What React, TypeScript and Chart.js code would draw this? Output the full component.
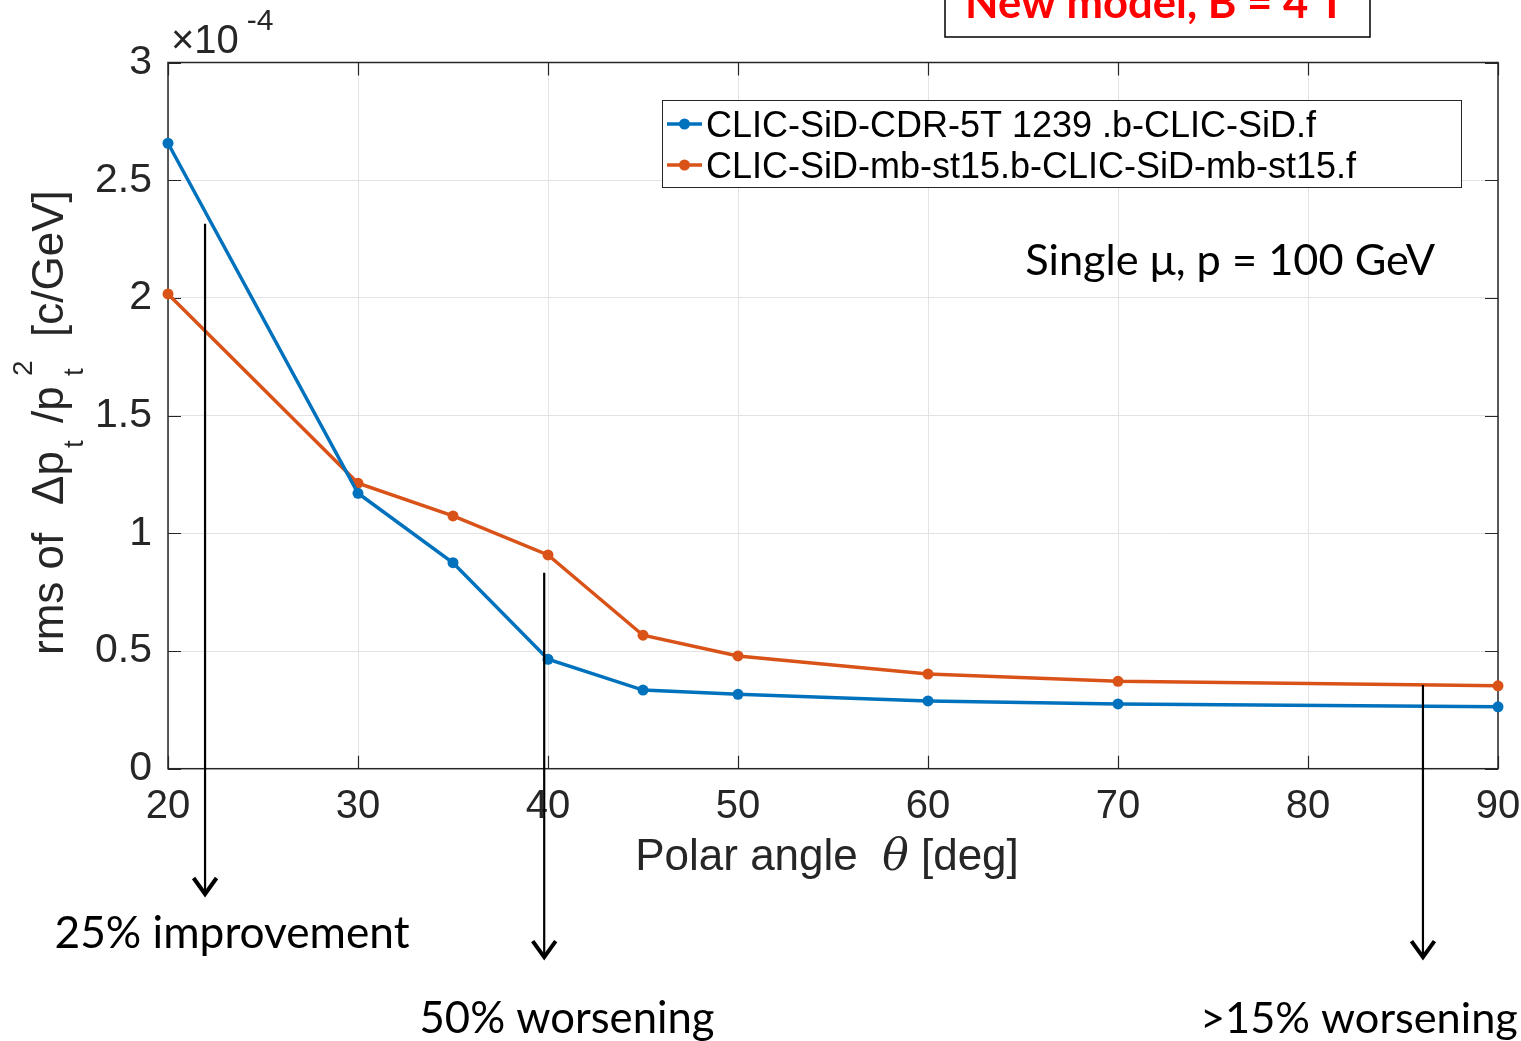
import React, { useEffect, useRef } from "react";
import { Chart, registerables } from "chart.js";

Chart.register(...registerables);

// ---- data ----
const angles = [20, 30, 35, 40, 45, 50, 60, 70, 90];
const cdr5t = [2.657, 1.17, 0.875, 0.465, 0.334, 0.316, 0.288, 0.275, 0.263];
const mbSt15 = [2.017, 1.213, 1.074, 0.908, 0.567, 0.479, 0.402, 0.371, 0.352];
const seriesLabels = [
  "CLIC-SiD-CDR-5T 1239 .b-CLIC-SiD.f",
  "CLIC-SiD-mb-st15.b-CLIC-SiD-mb-st15.f",
];
const seriesColors = ["#0072BD", "#D95319"];
const xTicks = [20, 30, 40, 50, 60, 70, 80, 90];
const yTicks = [0, 0.5, 1, 1.5, 2, 2.5, 3];
const titleBoxText = "New model, B = 4 T";
const infoText = "Single \u03bc, p = 100 GeV";
const infoPos = { x: 75.9, y: 2.098 };
const arrows = [
  { x: 21.95, from: 2.315, to: -0.545 },
  { x: 39.8, from: 0.832, to: -0.813 },
  { x: 86.05, from: 0.356, to: -0.813 },
];
const arrowLabels = [
  { text: "25% improvement", x: 23.37, y: -0.762, w: 355 },
  { text: "50% worsening", x: 41.0, y: -1.123, w: 295 },
  { text: ">15% worsening", x: 82.68, y: -1.123, w: 318 },
];

const AX = "#262626";
const SANS = "'Liberation Sans', Arial, sans-serif";
const CAL = "Lato, 'Open Sans', sans-serif";

function fitSize(ctx: CanvasRenderingContext2D, text: string, weight: string, family: string, target: number) {
  ctx.font = `${weight} 100px ${family}`;
  const w = ctx.measureText(text).width;
  return (100 * target) / w;
}

const overlayPlugin = {
  id: "overlay",
  beforeDatasetsDraw(chart: any) {
    const { ctx, chartArea: a, scales } = chart;
    const xs = scales.x, ys = scales.y;
    ctx.save();
    ctx.strokeStyle = AX;
    ctx.lineWidth = 1.2;
    const tl = 13;
    ctx.beginPath();
    xTicks.forEach((t) => {
      const px = Math.round(xs.getPixelForValue(t)) + 0.5;
      ctx.moveTo(px, a.bottom);
      ctx.lineTo(px, a.bottom - tl);
      ctx.moveTo(px, a.top);
      ctx.lineTo(px, a.top + tl);
    });
    yTicks.forEach((t) => {
      const py = Math.round(ys.getPixelForValue(t)) + 0.5;
      ctx.moveTo(a.left, py);
      ctx.lineTo(a.left + tl, py);
      ctx.moveTo(a.right, py);
      ctx.lineTo(a.right - tl, py);
    });
    ctx.stroke();
    ctx.lineWidth = 1.5;
    ctx.strokeRect(a.left, a.top, a.right - a.left, a.bottom - a.top);
    ctx.restore();
  },
  afterDraw(chart: any) {
    const { ctx, chartArea: a, scales } = chart;
    const xs = scales.x, ys = scales.y;
    ctx.save();

    // exponent label
    ctx.fillStyle = AX;
    ctx.textBaseline = "alphabetic";
    ctx.textAlign = "left";
    ctx.font = `40px ${SANS}`;
    ctx.fillText("\u00d710", a.left + 3, a.top - 10);
    const w10 = ctx.measureText("\u00d710").width;
    ctx.font = `30px ${SANS}`;
    ctx.fillText("-4", a.left + 3 + w10 + 8, a.top - 33);

    // x axis title
    const p1 = "Polar angle  ";
    const p2 = "\u03b8";
    const p3 = " [deg]";
    ctx.font = `44px ${SANS}`;
    const w1 = ctx.measureText(p1).width;
    const w3 = ctx.measureText(p3).width;
    ctx.font = `italic 44px 'DejaVu Serif', serif`;
    const w2 = ctx.measureText(p2).width;
    const total = w1 + w2 + w3;
    let sx = (a.left + a.right) / 2 - 6 - total / 2;
    const by = 870;
    ctx.font = `44px ${SANS}`;
    ctx.fillText(p1, sx, by);
    sx += w1;
    ctx.font = `italic 44px 'DejaVu Serif', serif`;
    ctx.fillText(p2, sx, by);
    sx += w2;
    ctx.font = `44px ${SANS}`;
    ctx.fillText(p3, sx, by);

    // y axis title (rotated, rich); offsets along the text direction
    ctx.save();
    ctx.translate(63, 655);
    ctx.rotate(-Math.PI / 2);
    const main = 44, small = 28;
    const segs: any[] = [
      { t: "rms of", s: main, at: 0, dy: 0 },
      { t: "\u0394p", s: main, at: 150, dy: 0 },
      { t: "t", s: small, at: 207, dy: 20 },
      { t: "/p", s: main, at: 232, dy: 0 },
      { t: "t", s: small, at: 279, dy: 20 },
      { t: "2", s: small, at: 279, dy: -31 },
      { t: "[c/GeV]", s: main, at: 318, dy: 0 },
    ];
    segs.forEach((sg) => {
      ctx.font = `${sg.s}px ${SANS}`;
      ctx.fillText(sg.t, sg.at, sg.dy);
    });
    ctx.restore();

    // legend
    const lx = 662, ly = 100, lw = 799, lh = 87;
    ctx.fillStyle = "#ffffff";
    ctx.fillRect(lx, ly, lw, lh);
    ctx.strokeStyle = AX;
    ctx.lineWidth = 1;
    ctx.strokeRect(lx + 0.5, ly + 0.5, lw, lh);
    chart.data.datasets.forEach((ds: any, i: number) => {
      const cy = 124 + i * 41;
      ctx.strokeStyle = ds.borderColor;
      ctx.lineWidth = 3.5;
      ctx.beginPath();
      ctx.moveTo(667, cy);
      ctx.lineTo(702, cy);
      ctx.stroke();
      ctx.fillStyle = ds.borderColor;
      ctx.beginPath();
      ctx.arc(684.5, cy, 5.5, 0, Math.PI * 2);
      ctx.fill();
      ctx.fillStyle = "#000000";
      ctx.font = `36px ${SANS}`;
      ctx.textBaseline = "middle";
      ctx.fillText(ds.label, 706, cy + 3);
    });
    ctx.textBaseline = "alphabetic";

    // info text
    ctx.fillStyle = "#000000";
    const fs = fitSize(ctx, infoText, "normal", CAL, 410);
    ctx.font = `${fs}px ${CAL}`;
    ctx.textAlign = "center";
    ctx.fillText(infoText, xs.getPixelForValue(infoPos.x), ys.getPixelForValue(infoPos.y));

    // arrows
    ctx.strokeStyle = "#000000";
    arrows.forEach((ar) => {
      const px = xs.getPixelForValue(ar.x);
      const y0 = ys.getPixelForValue(ar.from);
      const y1 = ys.getPixelForValue(ar.to);
      ctx.lineWidth = 2.2;
      ctx.beginPath();
      ctx.moveTo(px, y0);
      ctx.lineTo(px, y1 - 3);
      ctx.stroke();
      ctx.lineWidth = 4;
      ctx.lineJoin = "miter";
      ctx.beginPath();
      ctx.moveTo(px - 11.5, y1 - 19);
      ctx.lineTo(px, y1 - 3);
      ctx.lineTo(px + 11.5, y1 - 19);
      ctx.stroke();
    });
    arrowLabels.forEach((lb) => {
      const f = fitSize(ctx, lb.text, "normal", CAL, lb.w);
      ctx.font = `${f}px ${CAL}`;
      ctx.fillStyle = "#000000";
      ctx.textAlign = "center";
      ctx.fillText(lb.text, xs.getPixelForValue(lb.x), ys.getPixelForValue(lb.y));
    });

    // red title box (cropped at top)
    ctx.fillStyle = "#ffffff";
    ctx.fillRect(945, -10, 425, 47);
    ctx.strokeStyle = "#000000";
    ctx.lineWidth = 1.5;
    ctx.strokeRect(945, -10, 425, 47);
    const tf = fitSize(ctx, titleBoxText, "bold", CAL, 380);
    ctx.font = `bold ${tf}px ${CAL}`;
    ctx.fillStyle = "#ff0000";
    ctx.textAlign = "center";
    ctx.fillText(titleBoxText, 1155, 18);

    ctx.restore();
  },
};

export default function App() {
  const ref = useRef<HTMLCanvasElement | null>(null);
  useEffect(() => {
    document.body.style.margin = "0";
    document.body.style.overflow = "hidden";
    const canvas = ref.current;
    if (!canvas) return;
    const chart = new Chart(canvas, {
      type: "line",
      data: {
        datasets: [cdr5t, mbSt15].map((vals, i) => ({
          label: seriesLabels[i],
          data: angles.map((a, j) => ({ x: a, y: vals[j] })),
          borderColor: seriesColors[i],
          backgroundColor: seriesColors[i],
          pointBackgroundColor: seriesColors[i],
          pointBorderWidth: 0,
          pointRadius: 5.5,
          borderWidth: 3.5,
          tension: 0,
          clip: 8,
        })),
      },
      options: {
        animation: false,
        responsive: false,
        devicePixelRatio: 1,
        layout: { padding: { left: 0, top: 62.5, right: 23, bottom: 0 } },
        plugins: { legend: { display: false }, tooltip: { enabled: false } },
        scales: {
          x: {
            type: "linear",
            min: 20,
            max: 90,
            afterFit: (s: any) => {
              s.height = 272.3;
              s.paddingLeft = 0;
              s.paddingRight = 0;
            },
            afterBuildTicks: (s: any) => {
              s.ticks = xTicks.map((v) => ({ value: v }));
            },
            ticks: {
              font: { size: 40, family: SANS },
              color: AX,
              padding: 14,
              maxRotation: 0,
            },
            grid: { color: "#e3e3e3", lineWidth: 1, drawTicks: false },
            border: { display: false },
          },
          y: {
            type: "linear",
            min: 0,
            max: 3,
            afterFit: (s: any) => {
              s.width = 168;
              s.paddingTop = 0;
              s.paddingBottom = 0;
            },
            afterBuildTicks: (s: any) => {
              s.ticks = yTicks.map((v) => ({ value: v }));
            },
            ticks: {
              font: { size: 41, family: SANS },
              color: AX,
              padding: 16,
              callback: (v: any) => String(v),
            },
            grid: { color: "#e3e3e3", lineWidth: 1, drawTicks: false },
            border: { display: false },
          },
        },
      },
      plugins: [overlayPlugin],
    });
    return () => chart.destroy();
  }, []);
  return (
    <div style={{ position: "absolute", left: 0, top: 0, width: 1521, height: 1041, background: "#fff" }}>
      <canvas ref={ref} width={1521} height={1041} style={{ display: "block" }} />
    </div>
  );
}
